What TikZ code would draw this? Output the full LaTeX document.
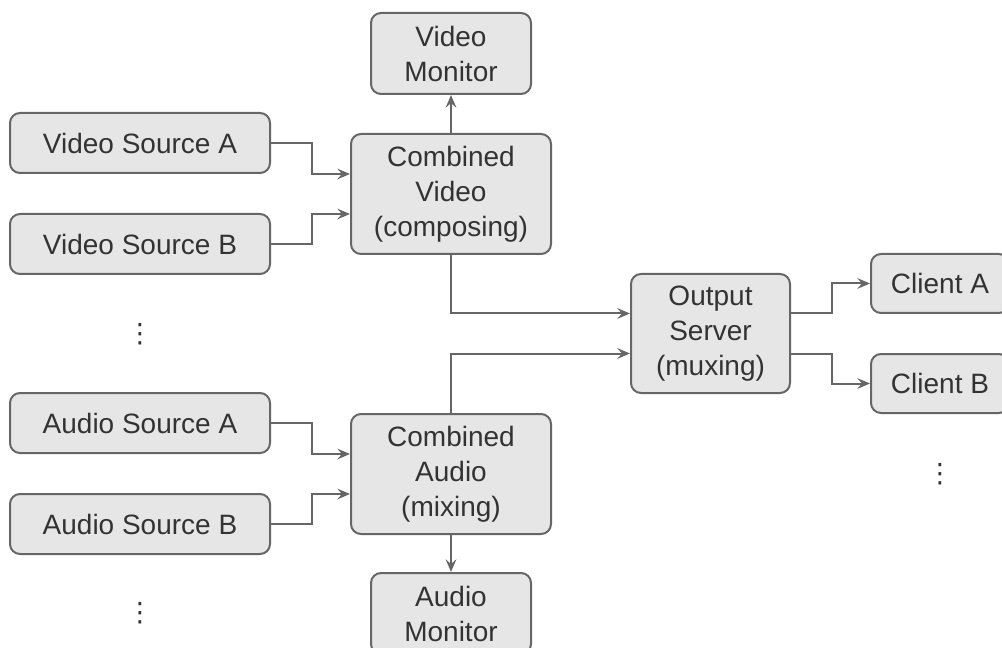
\documentclass[tikz,border=0pt]{standalone}
\usepackage{fontspec}
\setmainfont{Liberation Sans}
\newfontfamily\symfont{DejaVu Sans}
\usetikzlibrary{arrows.meta,calc}
\definecolor{boxfill}{HTML}{E6E6E6}
\definecolor{boxline}{HTML}{666666}
\definecolor{boxtext}{HTML}{333333}

\begin{document}
\begin{tikzpicture}[x=0.75pt,y=-0.75pt,
  block/.style={draw=boxline,fill=boxfill,line width=1.5pt,rounded corners=7.5pt,
    text=boxtext,align=center,inner sep=0pt,font=\fontsize{21}{26.25}\selectfont},
  link/.style={draw=boxline,line width=1.5pt,
    -{Stealth[length=9.5pt,width=8pt,inset=3.5pt]}},
  more/.style={text=boxtext,inner sep=0pt,font=\symfont\fontsize{20}{20}\selectfont}]
\clip (0,0) rectangle (1002,648);
\useasboundingbox (0,0) rectangle (1002,648);
% sources
\node[block,minimum width=195pt,minimum height=45pt] (vsa) at (140,143) {Video Source A};
\node[block,minimum width=195pt,minimum height=45pt] (vsb) at (140,244) {Video Source B};
\node[more] (vdots) at (140,334) {⋮};
\node[block,minimum width=195pt,minimum height=45pt] (asa) at (140,423) {Audio Source A};
\node[block,minimum width=195pt,minimum height=45pt] (asb) at (140,524) {Audio Source B};
\node[more] (adots) at (140,613) {⋮};
% combiners and monitors
\node[block,minimum width=150pt,minimum height=90pt] (cvid) at (451,194) {Combined\\Video\\(composing)};
\node[block,minimum width=120pt,minimum height=60.75pt] (vmon) at (451,53.5) {Video\\Monitor};
\node[block,minimum width=150pt,minimum height=90pt] (caud) at (451,474) {Combined\\Audio\\(mixing)};
\node[block,minimum width=120pt,minimum height=60.75pt] (amon) at (451,613.5) {Audio\\Monitor};
% output side
\node[block,minimum width=119.25pt,minimum height=89.25pt] (osrv) at (710.5,333.5) {Output\\Server\\(muxing)};
\node[block,minimum width=103.5pt,minimum height=44.25pt] (clia) at (940,283.5) {Client A};
\node[block,minimum width=103.5pt,minimum height=44.25pt] (clib) at (940,383.5) {Client B};
\node[more] (cdots) at (940,474) {⋮};

\draw[link] (vsa.east) -- ++(41,0) |- ($(cvid.west)+(0,-20)$);
\draw[link] (vsb.east) -- ++(41,0) |- ($(cvid.west)+(0,20)$);
\draw[link] (asa.east) -- ++(41,0) |- ($(caud.west)+(0,-20)$);
\draw[link] (asb.east) -- ++(41,0) |- ($(caud.west)+(0,20)$);
\draw[link] (cvid.north) -- (vmon.south);
\draw[link] (caud.south) -- (amon.north);
\draw[link] (cvid.south) |- ($(osrv.west)+(0,-20)$);
\draw[link] (caud.north) |- ($(osrv.west)+(0,20)$);
\draw[link] ($(osrv.east)+(0,-20)$) -- ++(41,0) |- (clia.west);
\draw[link] ($(osrv.east)+(0,20)$) -- ++(41,0) |- (clib.west);
\end{tikzpicture}
\end{document}
